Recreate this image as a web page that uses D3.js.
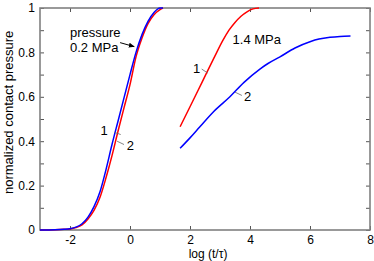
<!DOCTYPE html>
<html>
<head>
<meta charset="utf-8">
<script src="https://cdn.jsdelivr.net/npm/d3@7"></script>
<style>
  body { margin: 0; background: #fff; }
  svg { display: block; font-family: "Liberation Sans", Arial, sans-serif; }
</style>
</head>
<body>
<svg id="chart"></svg>
<script>
// 0.2 MPa curves (left pair)
var lowX = [-3, -2.5, -2.2, -2.0, -1.8, -1.6, -1.4, -1.2, -1.0, -0.8, -0.6, -0.4, -0.2, 0, 0.2, 0.4, 0.6, 0.8, 1.0, 1.1];
var lowBlue = [0, 0.001, 0.003, 0.006, 0.013, 0.028, 0.058, 0.105, 0.172, 0.272, 0.385, 0.49, 0.595, 0.70, 0.80, 0.88, 0.94, 0.98, 1.0, 1.0];
var lowRed = [0, 0.001, 0.003, 0.005, 0.011, 0.023, 0.05, 0.088, 0.147, 0.235, 0.335, 0.445, 0.55, 0.655, 0.78, 0.865, 0.93, 0.97, 0.993, 1.0];

// 1.4 MPa curves (right pair)
var highRedX = [1.67, 2.0, 2.4, 2.8, 3.1, 3.3, 3.5, 3.7, 3.9, 4.1, 4.3];
var highRed = [0.465, 0.555, 0.665, 0.775, 0.855, 0.9, 0.935, 0.963, 0.983, 0.996, 1.0];
var highBlueX = [1.67, 2.0, 2.33, 2.8, 3.33, 3.8, 4.33, 4.6, 5.0, 5.5, 6.0, 6.3, 6.67, 7.0, 7.35];
var highBlue = [0.368, 0.415, 0.465, 0.535, 0.6, 0.665, 0.725, 0.75, 0.78, 0.82, 0.848, 0.86, 0.868, 0.872, 0.874];

var xTicks = [-2, 0, 2, 4, 6, 8];
var yTicks = [0, 0.1, 0.2, 0.3, 0.4, 0.5, 0.6, 0.7, 0.8, 0.9, 1];
var yLabels = {0: "0", 0.2: "0.2", 0.4: "0.4", 0.6: "0.6", 0.8: "0.8", 1: "1"};

var width = 374, height = 261;

var svg = d3.select("#chart")
    .attr("width", width)
    .attr("height", height);

var x = d3.scaleLinear().domain([-3, 8]).range([40, 370]);
var y = d3.scaleLinear().domain([0, 1]).range([230, 8]);

var axisColor = "#808080";

function styleAxis(g) {
    g.select(".domain").remove();
    g.selectAll(".tick line").attr("stroke", "#555").attr("stroke-width", 1);
    g.selectAll(".tick text").attr("fill", "#000").style("font-size", "12px");
}

svg.append("g")
    .attr("transform", "translate(" + x.range()[0] + ",0)")
    .call(d3.axisLeft(y).tickValues(yTicks).tickSize(-4).tickPadding(5)
        .tickFormat(function(d) { return yLabels[d] !== undefined ? yLabels[d] : ""; }))
    .call(styleAxis);

svg.append("g")
    .attr("transform", "translate(" + x.range()[1] + ",0)")
    .call(d3.axisRight(y).tickValues(yTicks).tickSize(-4).tickFormat(""))
    .call(styleAxis);

svg.append("g")
    .attr("transform", "translate(0," + y.range()[0] + ")")
    .call(d3.axisBottom(x).tickValues(xTicks).tickSize(-4).tickPadding(5)
        .tickFormat(function(d) { return d; }))
    .call(styleAxis);

svg.append("g")
    .attr("transform", "translate(0," + y.range()[1] + ")")
    .call(d3.axisTop(x).tickValues(xTicks).tickSize(-4).tickFormat(""))
    .call(styleAxis);

svg.append("rect")
    .attr("x", x.range()[0])
    .attr("y", y.range()[1])
    .attr("width", x.range()[1] - x.range()[0])
    .attr("height", y.range()[0] - y.range()[1])
    .attr("fill", "none")
    .attr("stroke", axisColor)
    .attr("stroke-width", 1.6);

var line = d3.line()
    .x(function(d) { return x(d[0]); })
    .y(function(d) { return y(d[1]); })
    .curve(d3.curveMonotoneX);

var series = [
    {xs: lowX, ys: lowRed, color: "#ff0000"},
    {xs: lowX, ys: lowBlue, color: "#0000ff"},
    {xs: highRedX, ys: highRed, color: "#ff0000"},
    {xs: highBlueX, ys: highBlue, color: "#0000ff"}
];

svg.selectAll(".curve")
    .data(series)
    .enter().append("path")
    .attr("class", "curve")
    .attr("d", function(s) { return line(s.xs.map(function(v, i) { return [v, s.ys[i]]; })); })
    .attr("fill", "none")
    .attr("stroke", function(s) { return s.color; })
    .attr("stroke-width", 1.5);

// leader lines next to the curve numbers
var leaders = [
    [[-0.52, 0.44], [-0.31, 0.43]],
    [[-0.43, 0.40], [-0.2, 0.385]],
    [[2.39, 0.725], [2.59, 0.707]],
    [[3.5, 0.621], [3.73, 0.606]]
];
svg.selectAll(".leader")
    .data(leaders)
    .enter().append("line")
    .attr("class", "leader")
    .attr("x1", function(d) { return x(d[0][0]); })
    .attr("y1", function(d) { return y(d[0][1]); })
    .attr("x2", function(d) { return x(d[1][0]); })
    .attr("y2", function(d) { return y(d[1][1]); })
    .attr("stroke", "#666")
    .attr("stroke-width", 0.8);

var notes = [
    {t: "1", at: [-0.98, 0.427]},
    {t: "2", at: [-0.11, 0.36]},
    {t: "1", at: [2.1, 0.707]},
    {t: "2", at: [3.8, 0.580]},
    {t: "pressure", at: [-2.0, 0.868]},
    {t: "0.2 MPa", at: [-2.0, 0.803]},
    {t: "1.4 MPa", at: [3.42, 0.84]}
];
svg.selectAll(".note")
    .data(notes)
    .enter().append("text")
    .attr("class", "note")
    .attr("x", function(d) { return x(d.at[0]); })
    .attr("y", function(d) { return y(d.at[1]); })
    .style("font-size", "13px")
    .text(function(d) { return d.t; });

svg.append("defs").append("marker")
    .attr("id", "arrow")
    .attr("viewBox", "0 0 10 10")
    .attr("refX", 9).attr("refY", 5)
    .attr("markerWidth", 6).attr("markerHeight", 6)
    .attr("orient", "auto")
    .append("path")
    .attr("d", "M0,1L10,5L0,9z")
    .attr("fill", "#000");

svg.append("line")
    .attr("x1", x(-0.33)).attr("y1", y(0.844))
    .attr("x2", x(0.14)).attr("y2", y(0.826))
    .attr("stroke", "#000")
    .attr("stroke-width", 1)
    .attr("marker-end", "url(#arrow)");

svg.append("text")
    .attr("transform", "translate(13," + y(0.53) + ") rotate(-90)")
    .attr("text-anchor", "middle")
    .style("font-size", "13px")
    .text("normalized contact pressure");

svg.append("text")
    .attr("x", x(2.6))
    .attr("y", 257.5)
    .attr("text-anchor", "middle")
    .style("font-size", "12px")
    .text("log (t/\u03c4)");
</script>
</body>
</html>
